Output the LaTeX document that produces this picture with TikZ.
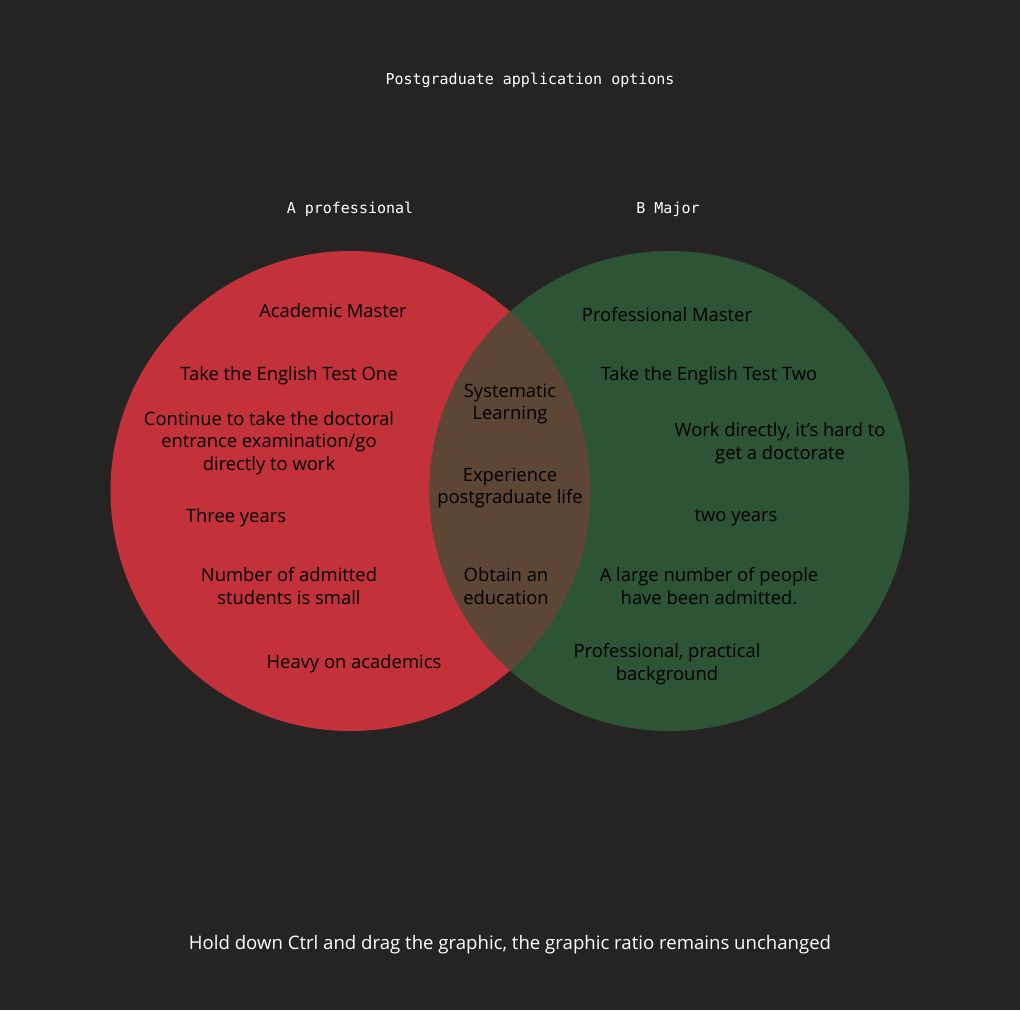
\documentclass[tikz,border=0pt]{standalone}
\usepackage{fontspec}
\setmainfont{Open Sans}
\newfontfamily\monofont{DejaVu Sans Mono}
\usepackage{xcolor}
\usetikzlibrary{positioning}

\definecolor{bgdark}{HTML}{252423}
\definecolor{setred}{HTML}{C3313A}
\definecolor{setgreen}{HTML}{2D5435}
\definecolor{setboth}{HTML}{5D4636}

\begin{document}
\begin{tikzpicture}[
  x=1pt, y=-1pt,
  every node/.style={align=center, inner sep=0pt},
  item/.style={text=black, font=\fontsize{18.4}{22.5}\selectfont},
  heading/.style={text=white, font=\monofont\fontsize{15}{18}\selectfont},
  note/.style={text=white, font=\fontsize{18.6}{22}\selectfont}
]
\fill[bgdark] (0,0) rectangle (1020,1010);
\useasboundingbox (0,0) rectangle (1020,1010);

% the two sets
\fill[setred] (350.5,491) circle (240);
\fill[setgreen] (669.5,491) circle (240);
\begin{scope}
  \clip (350.5,491) circle (240);
  \fill[setboth] (669.5,491) circle (240);
\end{scope}

% titles
\node[heading] (title) at (530,80) {Postgraduate application options};
\node[heading] (setA) at (350,209) {A professional};
\node[heading] (setB) at (668,209) {B Major};

% only A
\node[item] (a1) at (333,311) {Academic Master};
\node[item] (a2) at (289,376) {Take the English Test One};
\node[item] (a3) at (269,443) {Continue to take the doctoral\\entrance examination/go\\directly to work};
\node[item] (a4) at (236,518) {Three years};
\node[item] (a5) at (289,586) {Number of admitted\\students is small};
\node[item] (a6) at (354,664) {Heavy on academics};

% both
\node[item] (ab1) at (510,404) {Systematic\\Learning};
\node[item] (ab2) at (510,488) {Experience\\postgraduate life};
\node[item] (ab3) at (506,586) {Obtain an\\education};

% only B
\node[item] (b1) at (667,315) {Professional Master};
\node[item] (b2) at (709,376) {Take the English Test Two};
\node[item] (b3) at (780,443) {Work directly, it{\char39}s hard to\\get a doctorate};
\node[item] (b4) at (736,518) {two years};
\node[item] (b5) at (709,586) {A large number of people\\have been admitted.};
\node[item] (b6) at (667,664) {Professional, practical\\background};

\node[note] (hint) at (510,945) {Hold down Ctrl and drag the graphic, the graphic ratio remains unchanged};
\end{tikzpicture}
\end{document}
